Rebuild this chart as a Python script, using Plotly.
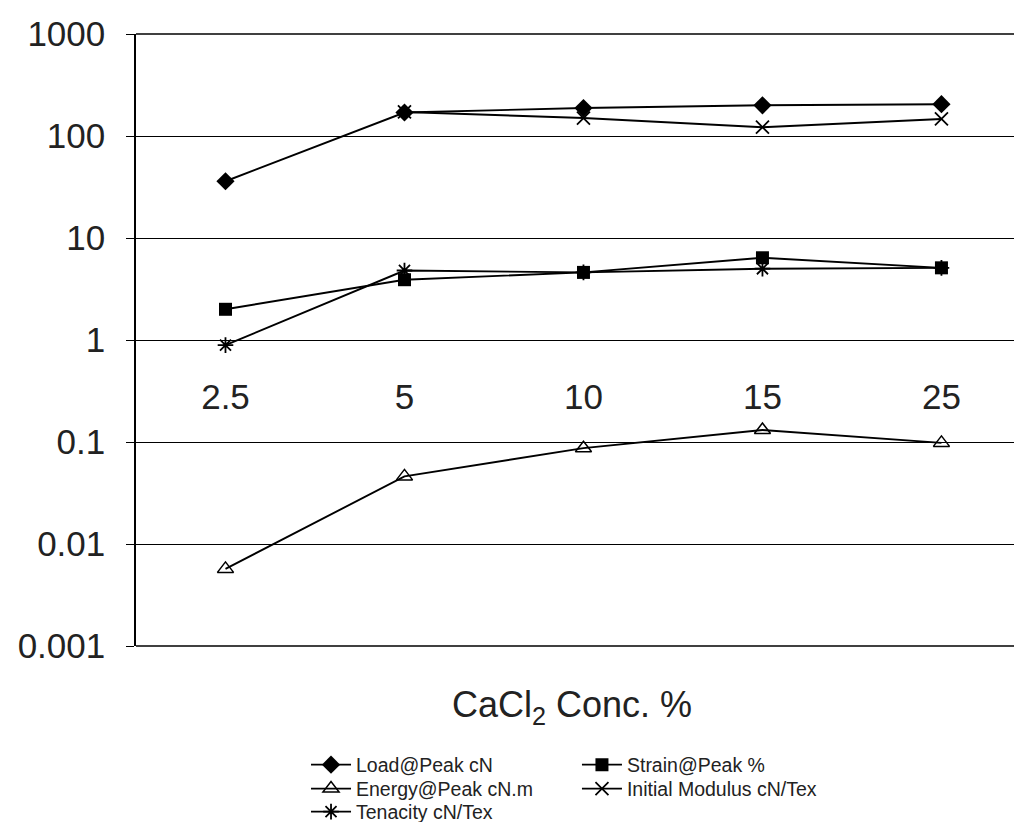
import plotly.graph_objects as go

conc = ["2.5", "5", "10", "15", "25"]
load_peak = [36, 170, 188, 200, 205]
strain_peak = [2.0, 3.9, 4.6, 6.4, 5.1]
energy_peak = [0.0057, 0.046, 0.087, 0.131, 0.098]
initial_modulus = [None, 172, 150, 122, 147]
tenacity = [0.89, 4.8, 4.6, 5.0, 5.1]

y_tickvals = [0.001, 0.01, 0.1, 1, 10, 100, 1000]
y_ticktext = ["0.001", "0.01", "0.1", "1", "10", "100", "1000"]

FONT = "Arial, Liberation Sans, sans-serif"
LINE = dict(color="black", width=1.9)

fig = go.Figure()
series = [
    ("Load@Peak cN", load_peak, dict(symbol="diamond", size=14, color="black"), "legend"),
    ("Strain@Peak %", strain_peak, dict(symbol="square", size=13, color="black"), "legend2"),
    ("Energy@Peak cN.m", energy_peak,
     dict(symbol="triangle-up-open", size=14, color="black", line=dict(color="black", width=1.5)), "legend3"),
    ("Initial Modulus cN/Tex", initial_modulus,
     dict(symbol="x-thin-open", size=13, color="black", line=dict(color="black", width=1.8)), "legend4"),
    ("Tenacity cN/Tex", tenacity,
     dict(symbol="asterisk-open", size=13, color="black", line=dict(color="black", width=1.8)), "legend5"),
]
for name, vals, mk, lg in series:
    fig.add_trace(go.Scatter(x=conc, y=vals, name=name, mode="lines+markers",
                             line=LINE, marker=mk, connectgaps=False, legend=lg))

legend_common = dict(orientation="v", xanchor="left", yanchor="top",
                     xref="container", yref="container",
                     font=dict(size=19.5, family=FONT, color="#222"),
                     tracegroupgap=0, itemwidth=40, bgcolor="rgba(0,0,0,0)")

col1, col2 = 0.2939, 0.5611
row1, row2, row3 = 0.0940, 0.0646, 0.0363

fig.update_layout(
    width=1014, height=814,
    margin=dict(l=128, r=0, t=26, b=176, autoexpand=False),
    paper_bgcolor="white", plot_bgcolor="white",
    font=dict(family=FONT, color="#222"),
    showlegend=True,
    legend=dict(x=col1, y=row1, **legend_common),
    legend2=dict(x=col2, y=row1, **legend_common),
    legend3=dict(x=col1, y=row2, **legend_common),
    legend4=dict(x=col2, y=row2, **legend_common),
    legend5=dict(x=col1, y=row3, **legend_common),
    xaxis=dict(type="category", range=[-0.5, 4.45], anchor="free", position=0.5,
               showgrid=False, showline=True, linecolor="black", linewidth=1,
               ticks="", tickfont=dict(size=35, family=FONT, color="#222"),
               ticklabelstandoff=26, zeroline=False, automargin=False),
    yaxis=dict(type="log", range=[-3, 3], tickvals=y_tickvals, ticktext=y_ticktext,
               showgrid=True, gridcolor="black", gridwidth=1,
               showline=True, linecolor="black", linewidth=1.5,
               ticks="outside", ticklen=8, tickcolor="black",
               tickfont=dict(size=35, family=FONT, color="#222"),
               ticklabelstandoff=14, zeroline=False, automargin=False),
    shapes=[
        dict(type="line", xref="paper", yref="paper", x0=0, x1=1, y0=1, y1=1,
             line=dict(color="black", width=1.5)),
        dict(type="line", xref="paper", yref="paper", x0=0, x1=1, y0=0, y1=0,
             line=dict(color="black", width=1.5)),
    ],
    annotations=[
        dict(text="CaCl<sub>2</sub> Conc. %", xref="paper", yref="paper",
             x=0.492, y=-0.099, xanchor="center", yanchor="middle", showarrow=False,
             font=dict(size=36, family=FONT, color="#222")),
    ],
)

fig.write_html("out.html")
